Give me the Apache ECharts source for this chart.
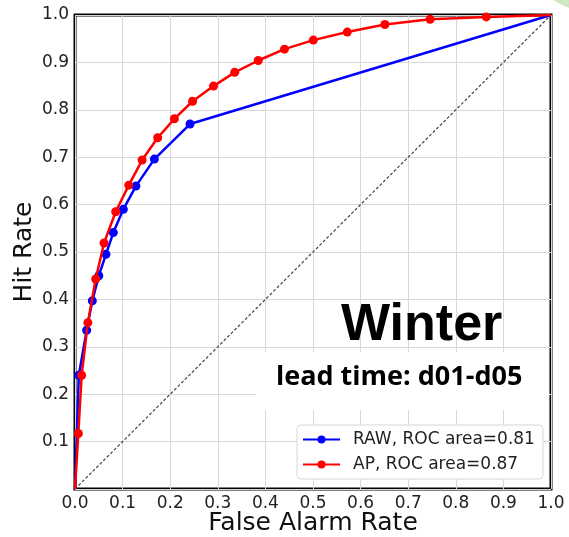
<!DOCTYPE html>
<html><head><meta charset="utf-8">
<script src="https://cdn.jsdelivr.net/npm/echarts@6/dist/echarts.min.js"></script>
<style>html,body{margin:0;padding:0;background:#fff}#c{width:569px;height:537px}</style>
</head><body><div id="c"></div>
<script>
// ---- data ----
const rawFAR = [0, 0.008, 0.0245, 0.0364, 0.050, 0.065, 0.0805, 0.1015, 0.128, 0.1667, 0.2416, 1];
const rawHit = [0, 0.240, 0.335, 0.397, 0.450, 0.495, 0.541, 0.590, 0.639, 0.696, 0.770, 1];
const apFAR = [0, 0.007, 0.014, 0.027, 0.0435, 0.061, 0.0855, 0.113, 0.141, 0.1737, 0.2087, 0.247, 0.291, 0.3355, 0.385, 0.44, 0.5007, 0.572, 0.651, 0.746, 0.864, 1];
const apHit = [0, 0.117, 0.240, 0.351, 0.443, 0.519, 0.585, 0.641, 0.694, 0.741, 0.781, 0.818, 0.850, 0.879, 0.904, 0.928, 0.947, 0.964, 0.980, 0.991, 0.996, 1];
const diagX = [0, 1];
const diagY = [0, 1];
const seriesNames = ['RAW, ROC area=0.81', 'AP, ROC area=0.87'];
const xTickLabels = ['0.0','0.1','0.2','0.3','0.4','0.5','0.6','0.7','0.8','0.9','1.0'];
const yTickLabels = ['','0.1','0.2','0.3','0.4','0.5','0.6','0.7','0.8','0.9','1.0'];
const titleText = 'Winter';
const subtitleText = 'lead time: d01-d05';

function pts(xs, ys) {
  return xs.map((x, i) => {
    const item = { value: [x, ys[i]] };
    if ((x === 0 && ys[i] === 0) || (x === 1 && ys[i] === 1)) item.symbolSize = 0;
    return item;
  });
}

const chart = echarts.init(document.getElementById('c'), null, { renderer: 'canvas' });
const tickFont = { fontFamily: 'DejaVu Sans', fontSize: 17, color: '#222' };
chart.setOption({
  animation: false,
  backgroundColor: '#fff',
  grid: { left: 75, right: 18, top: 15, bottom: 48, containLabel: false, outerBoundsMode: 'none',
          show: true, borderColor: '#000', borderWidth: 3, backgroundColor: 'transparent' },
  xAxis: {
    type: 'value', min: 0, max: 1, interval: 0.1,
    name: 'False Alarm Rate', nameLocation: 'middle', nameGap: 22, nameMoveOverlap: false,
    nameTextStyle: { fontFamily: 'DejaVu Sans', fontSize: 25, color: '#111' },
    axisLine: { show: false }, axisTick: { show: false },
    axisLabel: Object.assign({ margin: 6, formatter: v => xTickLabels[Math.round(v * 10)] }, tickFont),
    splitLine: { show: true, lineStyle: { color: '#d8d8d8', width: 1 } }
  },
  yAxis: {
    type: 'value', min: 0, max: 1, interval: 0.1,
    name: 'Hit Rate', nameLocation: 'middle', nameGap: 38, nameRotate: 90, nameMoveOverlap: false,
    nameTextStyle: { fontFamily: 'DejaVu Sans', fontSize: 25, color: '#111' },
    axisLine: { show: false }, axisTick: { show: false },
    axisLabel: Object.assign({ margin: 6, formatter: v => yTickLabels[Math.round(v * 10)] }, tickFont),
    splitLine: { show: true, lineStyle: { color: '#d8d8d8', width: 1 } }
  },
  legend: {
    left: 297, top: 425, orient: 'vertical',
    data: seriesNames,
    itemWidth: 37, itemHeight: 10, itemGap: 8,
    padding: [6, 8, 6, 5],
    backgroundColor: '#fff', borderColor: '#d6d6d6', borderWidth: 1, borderRadius: 4,
    textStyle: { fontFamily: 'DejaVu Sans', fontSize: 17, color: '#222', padding: [0, 0, 0, 8] }
  },
  graphic: [
    { type: 'polygon', z: 100, shape: { points: [[553,0],[569,0],[569,8],[562,5]] }, style: { fill: '#cfe8c0' } },
    { type: 'rect', z: 50, shape: { x: 256, y: 352, width: 293, height: 58 }, style: { fill: '#fff' } },
    { type: 'text', z: 100, left: 341, top: 300,
      style: { text: titleText, fontFamily: 'Liberation Sans', fontWeight: 'bold', fontSize: 52, fill: '#000' } },
    { type: 'text', z: 100, left: 276, top: 364,
      style: { text: subtitleText, fontFamily: 'Open Sans', fontWeight: 'bold', fontSize: 27, fill: '#000' } }
  ],
  series: [
    { type: 'line', name: 'diag', data: pts(diagX, diagY), symbol: 'none', silent: true,
      lineStyle: { color: '#444', width: 1.2, type: [3, 2] }, z: 1 },
    { type: 'line', name: seriesNames[0], data: pts(rawFAR, rawHit), symbol: 'circle', symbolSize: 9,
      itemStyle: { color: '#0000ff' }, lineStyle: { color: '#0000ff', width: 2.5 }, z: 2 },
    { type: 'line', name: seriesNames[1], data: pts(apFAR, apHit), symbol: 'circle', symbolSize: 9,
      itemStyle: { color: '#ff0000' }, lineStyle: { color: '#ff0000', width: 2.5 }, z: 3 }
  ]
});
</script></body></html>
